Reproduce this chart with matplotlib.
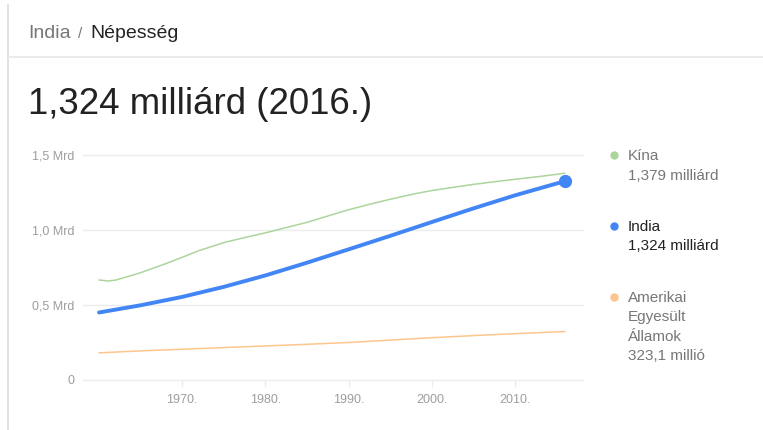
import matplotlib
matplotlib.use('Agg')
import matplotlib.pyplot as plt
from matplotlib.lines import Line2D

plt.rcParams['font.family'] = ['Liberation Sans', 'DejaVu Sans']

# population data, billions
years_china = [1960, 1961, 1962, 1963, 1965, 1968, 1970, 1972, 1975, 1978, 1980, 1983,
               1985, 1988, 1990, 1993, 1995, 1998, 2000, 2003, 2005, 2008, 2010, 2013,
               2015, 2016]
china = [0.667, 0.660, 0.666, 0.682, 0.715, 0.775, 0.818, 0.862, 0.916, 0.956, 0.981, 1.023,
         1.051, 1.102, 1.135, 1.178, 1.205, 1.242, 1.263, 1.288, 1.304, 1.325, 1.338, 1.357,
         1.371, 1.379]

years = [1960, 1965, 1970, 1975, 1980, 1985, 1990, 1995, 2000, 2005, 2010, 2015, 2016]
india = [0.450, 0.498, 0.554, 0.621, 0.697, 0.782, 0.871, 0.961, 1.053, 1.144, 1.231, 1.310, 1.324]
usa = [0.181, 0.194, 0.205, 0.216, 0.227, 0.238, 0.250, 0.266, 0.282, 0.296, 0.309, 0.321, 0.323]

xticks = [1970, 1980, 1990, 2000, 2010]
xlabels = ['1970.', '1980.', '1990.', '2000.', '2010.']
yticks = [0, 0.5, 1.0, 1.5]
ylabels = ['0', '0,5 Mrd', '1,0 Mrd', '1,5 Mrd']

c_china = '#acd59c'
c_india = '#4285f4'
c_usa = '#fdc68c'
c_grid = '#ececec'
c_tick = '#9e9e9e'

W, H = 763, 430
fig = plt.figure(figsize=(W / 100, H / 100), dpi=100)

# card decoration
fig.add_artist(Line2D([8 / W, 8 / W], [0, 1 - 5 / H], color='#dcdcdc', lw=1.2))
fig.add_artist(Line2D([8 / W, 1], [1 - 57 / H, 1 - 57 / H], color='#e8e8e8', lw=1.2))

fig.text(28 / W, 1 - 33 / H, 'India', color='#777777', fontsize=14, va='center')
fig.text(78 / W, 1 - 34 / H, '/', color='#777777', fontsize=11, va='center')
fig.text(90 / W, 1 - 33 / H, 'Népesség', color='#222222', fontsize=14, va='center')

fig.text(28 / W, 1 - 105 / H, '1,324 milliárd (2016.)', color='#222222', fontsize=26.4, va='center')

ax = fig.add_axes([83 / W, 1 - 380 / H, 500 / W, 225 / H])
ax.plot(years_china, china, color=c_china, lw=1.1, solid_capstyle='round')
ax.plot(years, usa, color=c_usa, lw=1.1, solid_capstyle='round')
ax.plot(years, india, color=c_india, lw=2.8, solid_capstyle='round')
ax.plot(years[-1], india[-1], 'o', color=c_india, ms=8.5, clip_on=False)

ax.set_xlim(1958.08, 2018.17)
ax.set_ylim(0, 1.5)
for s in ax.spines.values():
    s.set_visible(False)
for y in yticks:
    ax.axhline(y, color=c_grid, lw=1, zorder=0, clip_on=False)

ax.set_yticks(yticks)
ax.set_yticklabels(ylabels)
ax.set_xticks(xticks)
ax.set_xticklabels(xlabels)
ax.tick_params(axis='y', length=0, pad=6, labelsize=9, labelcolor=c_tick)
ax.tick_params(axis='x', length=5, width=1, color=c_grid, pad=5, labelsize=9, labelcolor=c_tick)

# legend on the right
def legend_item(y_px, color, lines, text_color):
    fig.add_artist(Line2D([614 / W], [1 - (y_px - 1) / H], marker='o', ms=5, color=color, lw=0))
    for i, t in enumerate(lines):
        fig.text(628 / W, 1 - (y_px + i * 19.5) / H, t, color=text_color, fontsize=11, va='center')

legend_item(156, c_china, ['Kína', '1,379 milliárd'], '#777777')
legend_item(227, c_india, ['India', '1,324 milliárd'], '#222222')
legend_item(298, c_usa, ['Amerikai', 'Egyesült', 'Államok', '323,1 millió'], '#777777')

fig.savefig('out.png', dpi=100)
